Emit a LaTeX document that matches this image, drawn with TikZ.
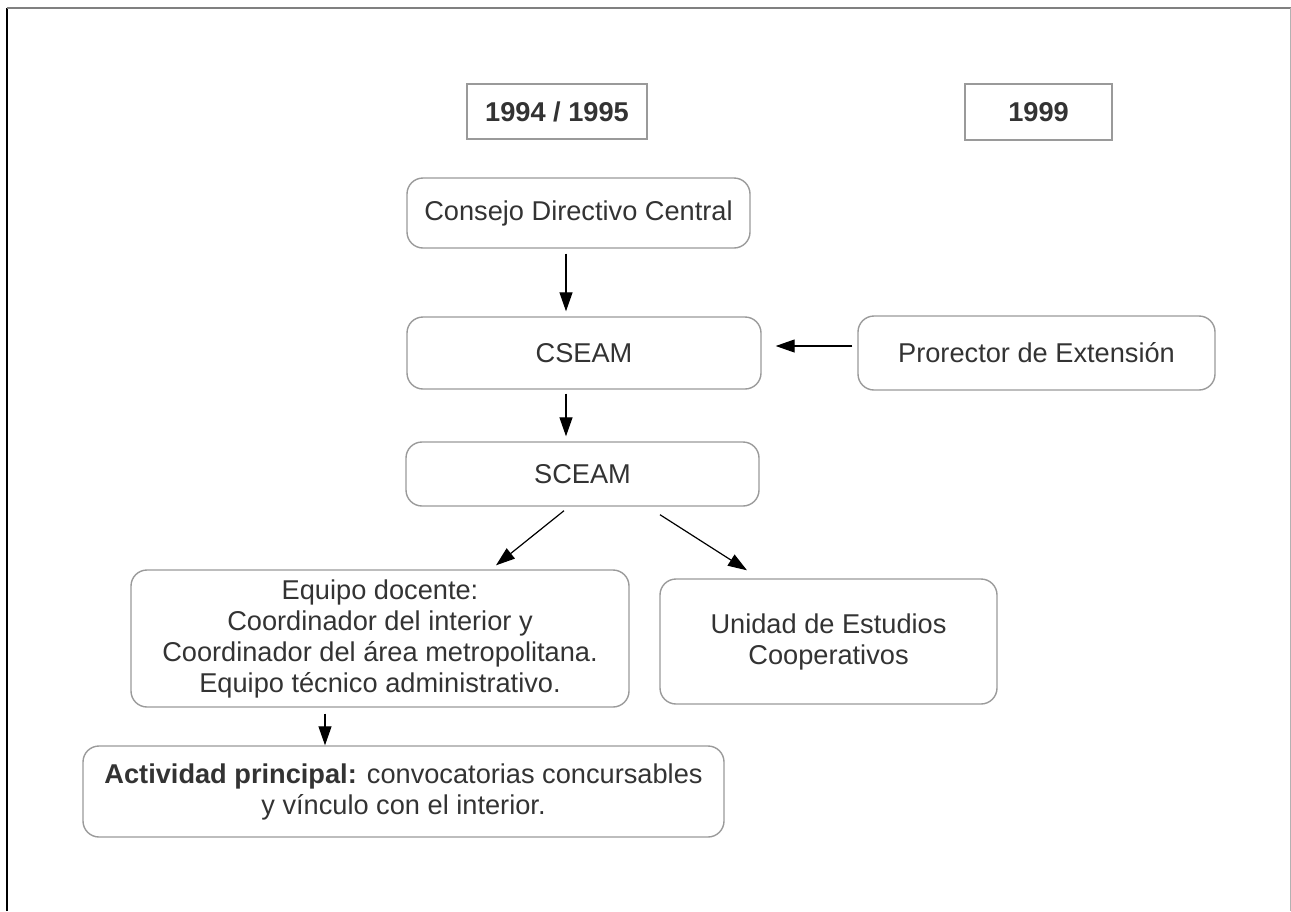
\documentclass[tikz,border=0pt]{standalone}
\usepackage{fontspec}
\setmainfont{Liberation Sans}
\usetikzlibrary{arrows.meta,calc}
\definecolor{textogris}{HTML}{333333}
\definecolor{bordegris}{HTML}{9A9A9A}

\begin{document}
\begin{tikzpicture}[x=0.5pt,y=-0.5pt,
	caja/.style={draw=bordegris,line width=0.7pt,rounded corners=8pt,text=textogris,align=center,inner sep=0pt,font=\fontsize{13.6pt}{15.5pt}\selectfont},
	anio/.style={caja,rounded corners=0pt,font=\fontsize{13.6pt}{15.5pt}\selectfont\bfseries},
	flecha/.style={-{Triangle[length=9.5pt,width=6.5pt]},line width=0.6pt,black}]
						\useasboundingbox (0,0) rectangle (1291,911);
						\draw[black,line width=1pt] (6.5,911) -- (6.5,7.5);
						\draw[gray,line width=1pt] (6.5,7.5) -- (1290.5,7.5);
						\draw[gray!60,line width=0.8pt] (1290.5,7.5) -- (1290.5,911);

						\node[anio,minimum width=90pt,minimum height=27.5pt] (y1994) at (557,111.5) {1994 / 1995};
						\node[anio,minimum width=73.5pt,minimum height=28pt] (y1999) at (1038.5,112) {1999};

						\node[caja,minimum width=171.5pt,minimum height=35pt] (cdc) at (578.5,213) {Consejo Directivo Central};
						\node[caja,minimum width=177pt,minimum height=36pt] (cseam) at (584,353) {CSEAM};
						\node[caja,minimum width=178.5pt,minimum height=37pt] (prorector) at (1036.5,353) {Prorector de Extensión};
						\node[caja,minimum width=176.5pt,minimum height=32pt] (sceam) at (582.5,474) {SCEAM};
						\node[caja,minimum width=249pt,minimum height=68.5pt] (equipo) at (380,638.5) {Equipo docente:\\Coordinador del interior y\\Coordinador del área metropolitana.\\Equipo técnico administrativo.};
						\node[caja,minimum width=168.5pt,minimum height=62.5pt] (unidad) at (828.5,641.5) {Unidad de Estudios\\Cooperativos};
						\node[caja,minimum width=320.5pt,minimum height=45.5pt] (actividad) at (403.5,791.5) {\textbf{Actividad principal:} convocatorias concursables\\y vínculo con el interior.};

						\draw[flecha] ($(cdc.south)+(-12.5,5)$) -- ($(cseam.north)+(-18,-5)$);
						\draw[flecha] ($(prorector.west)+(-5,-7)$) -- ($(cseam.east)+(14,-7)$);
						\draw[flecha] ($(cseam.south)+(-18,4)$) -- ($(sceam.north)+(-16.5,-5)$);
						\draw[flecha] ($(sceam.south)+(-18.5,4)$) -- ($(equipo.north)+(116,-4)$);
						\draw[flecha] ($(sceam.south)+(77.5,8)$) -- ($(unidad.north)+(-81.5,-8)$);
						\draw[flecha] ($(equipo.south)+(-55,6)$) -- ($(actividad.north)+(-78.5,0)$);
					\end{tikzpicture}
\end{document}
